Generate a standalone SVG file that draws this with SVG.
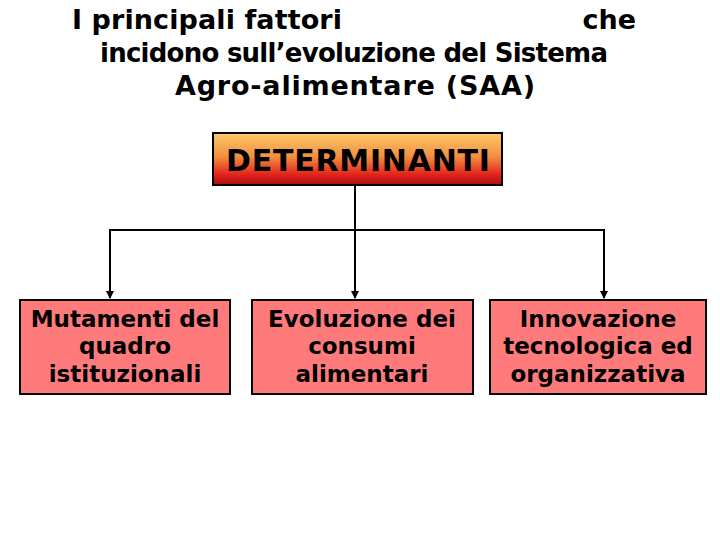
<svg xmlns="http://www.w3.org/2000/svg" width="720" height="540" viewBox="0 0 720 540">
<style>
  .t { font-family: "DejaVu Sans", "Liberation Sans", sans-serif; font-weight: bold; fill: #000; }
  .title { font-size: 27px; }
  .box { fill: #ff7b7b; stroke: #000; stroke-width: 2; }
  .lbl { font-size: 23px; text-anchor: middle; }
  .conn { stroke: #000; stroke-width: 2; fill: none; }
</style>
<defs>
  <linearGradient id="g" x1="0" y1="0" x2="0" y2="1">
    <stop offset="0" stop-color="#fbc86a"/>
    <stop offset="0.45" stop-color="#f39040"/>
    <stop offset="0.8" stop-color="#e3241c"/>
    <stop offset="1" stop-color="#a80c0c"/>
  </linearGradient>
  <marker id="arr" markerWidth="8" markerHeight="10" refX="7" refY="4" orient="auto" markerUnits="userSpaceOnUse" viewBox="0 0 8 8">
    <path d="M0,0 L8,4 L0,8 Z" fill="#000"/>
  </marker>
</defs>
<g id="title">
  <text class="t title" y="29"><tspan x="72" textLength="270">I principali fattori</tspan><tspan x="636" text-anchor="end">che</tspan></text>
  <text class="t title" x="100" y="62" font-size="26" style="font-size:26px" textLength="508">incidono sull’evoluzione del Sistema</text>
  <text class="t title" x="175" y="95" textLength="360">Agro-alimentare (SAA)</text>
</g>
<g id="connectors">
  <line class="conn" x1="355" y1="186" x2="355" y2="230"/>
  <line class="conn" x1="110" y1="230" x2="604" y2="230"/>
  <line class="conn" x1="110" y1="229" x2="110" y2="298" marker-end="url(#arr)"/>
  <line class="conn" x1="355" y1="229" x2="355" y2="298" marker-end="url(#arr)"/>
  <line class="conn" x1="604" y1="229" x2="604" y2="298" marker-end="url(#arr)"/>
</g>
<g id="determinanti">
  <rect x="213" y="133" width="289" height="52" fill="url(#g)" stroke="#000" stroke-width="2"/>
  <text class="t" x="226" y="171" font-size="30" textLength="264">DETERMINANTI</text>
</g>
<g id="mutamenti">
  <rect class="box" x="20" y="300" width="210" height="94"/>
  <text class="t lbl" x="125" y="327">Mutamenti del</text>
  <text class="t lbl" x="125" y="354">quadro</text>
  <text class="t lbl" x="125" y="382">istituzionali</text>
</g>
<g id="evoluzione">
  <rect class="box" x="252" y="300" width="221" height="94"/>
  <text class="t lbl" x="362" y="327">Evoluzione dei</text>
  <text class="t lbl" x="362" y="354">consumi</text>
  <text class="t lbl" x="362" y="382">alimentari</text>
</g>
<g id="innovazione">
  <rect class="box" x="490" y="300" width="216" height="94"/>
  <text class="t lbl" x="598" y="327">Innovazione</text>
  <text class="t lbl" x="598" y="354">tecnologica ed</text>
  <text class="t lbl" x="598" y="382">organizzativa</text>
</g>
</svg>
